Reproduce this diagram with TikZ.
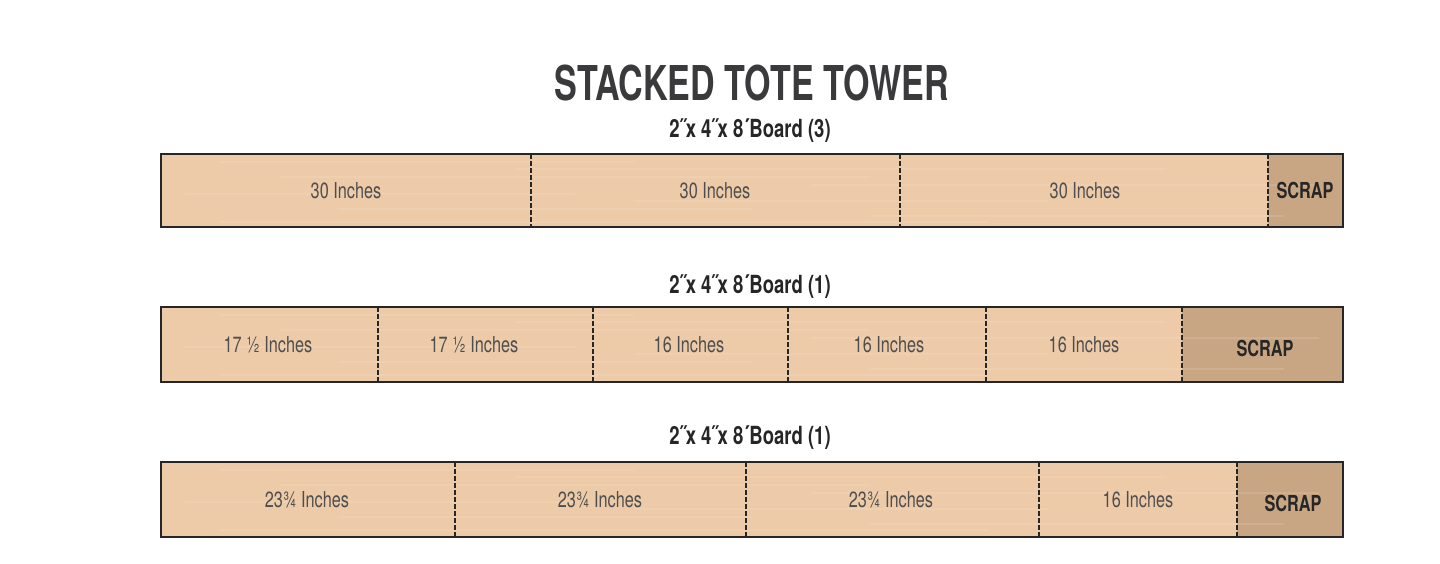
\documentclass[tikz,border=0pt]{standalone}
\usepackage{fontspec}
\setmainfont{TeX Gyre Heros}[FakeStretch=0.74]
\newfontfamily\titlefont{TeX Gyre Heros}[FakeStretch=0.71]
\definecolor{wood}{HTML}{EDCBA8}
\definecolor{scrapc}{HTML}{C9A683}
\definecolor{labelc}{HTML}{4E4E4E}
\definecolor{inkc}{HTML}{262626}
\definecolor{titlec}{HTML}{3A3A3C}
\tikzset{
  board/.style={draw=inkc, line width=1.5pt},
  cut/.style={draw=inkc, line width=1.4pt, dash pattern=on 4.5pt off 2.5pt},
  lab/.style={font=\fontsize{22}{24}\selectfont, text=labelc},
  scraplab/.style={font=\bfseries\fontsize{22}{24}\selectfont, text=inkc},
  sub/.style={font=\bfseries\fontsize{25}{27}\selectfont, text=inkc},
  grain/.style={draw=white, opacity=0.10, line width=1.5pt}
}
\newcommand{\grainlines}[3]{% x1, x2, ytop
  \foreach \dy/\a/\b in {8/0.05/0.40, 15/0.30/0.85, 23/0.10/0.60, 31/0.55/0.98, 40/0.02/0.35, 47/0.40/0.75, 55/0.15/0.50, 62/0.60/0.95, 68/0.05/0.70}{
    \draw[grain] ({#1+\a*(#2-#1)},{#3+\dy}) -- ({#1+\b*(#2-#1)},{#3+\dy});
  }
}
\begin{document}
\begin{tikzpicture}[x=1pt,y=-1pt]
\useasboundingbox (0,0) rectangle (1440,563);
\fill[white] (0,0) rectangle (1440,563);

% title
\node[font=\titlefont\bfseries\fontsize{48}{52}\selectfont, text=titlec] (title) at (752,83) {STACKED TOTE TOWER};

% ---------- Board 1 ----------
\node[sub] (sub1) at (750,131) {2˝x 4˝x 8´Board (3)};
\fill[wood] (161,154) rectangle (1268,227);
\fill[scrapc] (1268,154) rectangle (1343,227);
\grainlines{161}{1343}{154}
\draw[cut] (531,154) -- (531,227);
\draw[cut] (900,154) -- (900,227);
\draw[cut] (1268,154) -- (1268,227);
\draw[board] (161,154) rectangle (1343,227);
\node[lab] (a1) at (346,191) {30 Inches};
\node[lab] (a2) at (715,191) {30 Inches};
\node[lab] (a3) at (1085,191) {30 Inches};
\node[scraplab] (a4) at (1305,190) {SCRAP};

% ---------- Board 2 ----------
\node[sub] (sub2) at (750,287) {2˝x 4˝x 8´Board (1)};
\fill[wood] (161,307) rectangle (1182,382);
\fill[scrapc] (1182,307) rectangle (1343,382);
\grainlines{161}{1343}{307}
\foreach \xx in {378,593,788,986,1182}{\draw[cut] (\xx,307) -- (\xx,382);}
\draw[board] (161,307) rectangle (1343,382);
\node[lab] (b1) at (268,345) {17 ½ Inches};
\node[lab] (b2) at (474,345) {17 ½ Inches};
\node[lab] (b3) at (689,345) {16 Inches};
\node[lab] (b4) at (889,345) {16 Inches};
\node[lab] (b5) at (1084,345) {16 Inches};
\node[scraplab] (b6) at (1265,348) {SCRAP};

% ---------- Board 3 ----------
\node[sub] (sub3) at (750,438) {2˝x 4˝x 8´Board (1)};
\fill[wood] (161,462) rectangle (1237,537);
\fill[scrapc] (1237,462) rectangle (1343,537);
\grainlines{161}{1343}{462}
\foreach \xx in {455,746,1039,1237}{\draw[cut] (\xx,462) -- (\xx,537);}
\draw[board] (161,462) rectangle (1343,537);
\node[lab] (c1) at (307,500) {23¾ Inches};
\node[lab] (c2) at (600,500) {23¾ Inches};
\node[lab] (c3) at (891,500) {23¾ Inches};
\node[lab] (c4) at (1138,500) {16 Inches};
\node[scraplab] (c5) at (1293,503) {SCRAP};
\end{tikzpicture}
\end{document}
